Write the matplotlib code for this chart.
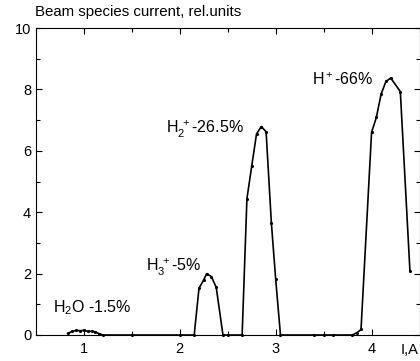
import numpy as np
import matplotlib.pyplot as plt
from matplotlib.ticker import MultipleLocator

plt.rcParams['font.family'] = ['Liberation Sans', 'DejaVu Sans']
plt.rcParams['mathtext.fontset'] = 'custom'
plt.rcParams['mathtext.rm'] = 'Liberation Sans'
plt.rcParams['mathtext.it'] = 'Liberation Sans'
plt.rcParams['mathtext.default'] = 'regular'

# beam current vs magnet current
current = [0.83, 0.88, 0.92, 0.96, 1.0, 1.04, 1.08, 1.12, 1.16, 1.2,
           1.5, 2.0, 2.15, 2.2, 2.25, 2.28, 2.33, 2.38, 2.45, 2.5,
           2.65, 2.7, 2.75, 2.8, 2.85, 2.9, 2.955, 3.0, 3.05,
           3.4, 3.5, 3.6, 3.8, 3.85, 3.89, 4.0, 4.05, 4.1, 4.15, 4.2, 4.3, 4.4]
beam = [0.05, 0.12, 0.15, 0.14, 0.15, 0.12, 0.12, 0.1, 0.04, 0.0,
        0.0, 0.0, 0.0, 1.52, 1.8, 2.0, 1.9, 1.55, 0.0, 0.0,
        0.0, 4.44, 5.5, 6.55, 6.79, 6.62, 3.65, 1.81, 0.0,
        0.0, 0.0, 0.0, 0.0, 0.08, 0.18, 6.6, 7.09, 7.85, 8.26, 8.37, 7.93, 2.1]

labels = [r'H$_2$O -1.5%', r'H$_3^{\ +}$-5%', r'H$_2^{\ +}$-26.5%', r'H$^+$-66%']
label_x = [0.677, 1.646, 1.854, 3.375]
label_y = [0.73, 2.06, 6.57, 8.14]

fig = plt.figure(figsize=(4.2, 3.61), dpi=100)
ax = fig.add_axes([36 / 420, 1 - 335 / 361, 383.5 / 420, 307 / 361])

ax.plot(current, beam, color='black', lw=1.2, marker='.', ms=2.5, clip_on=False)

for t, x, y in zip(labels, label_x, label_y):
    ax.text(x, y, t, fontsize=11.5, va='baseline', ha='left')

ax.set_xlim(0.5, 4.5)
ax.set_ylim(0, 10)
ax.xaxis.set_major_locator(MultipleLocator(1))
ax.xaxis.set_minor_locator(MultipleLocator(0.5))
ax.yaxis.set_major_locator(MultipleLocator(2))
ax.yaxis.set_minor_locator(MultipleLocator(1))
ax.set_xticks([1, 2, 3, 4])
ax.tick_params(which='both', direction='in', top=True, right=True, labelsize=10.5)
ax.tick_params(axis='x', pad=5)
ax.tick_params(which='major', length=4, width=0.8)
ax.tick_params(which='minor', length=3, width=0.8)

ax.text(4.40, -0.49, 'I,A', fontsize=10.5, ha='center', va='center')
fig.text(35 / 420, 1 - 12 / 361, 'Beam species current, rel.units', fontsize=10.8, ha='left', va='center')

fig.savefig('out.png', dpi=100)
